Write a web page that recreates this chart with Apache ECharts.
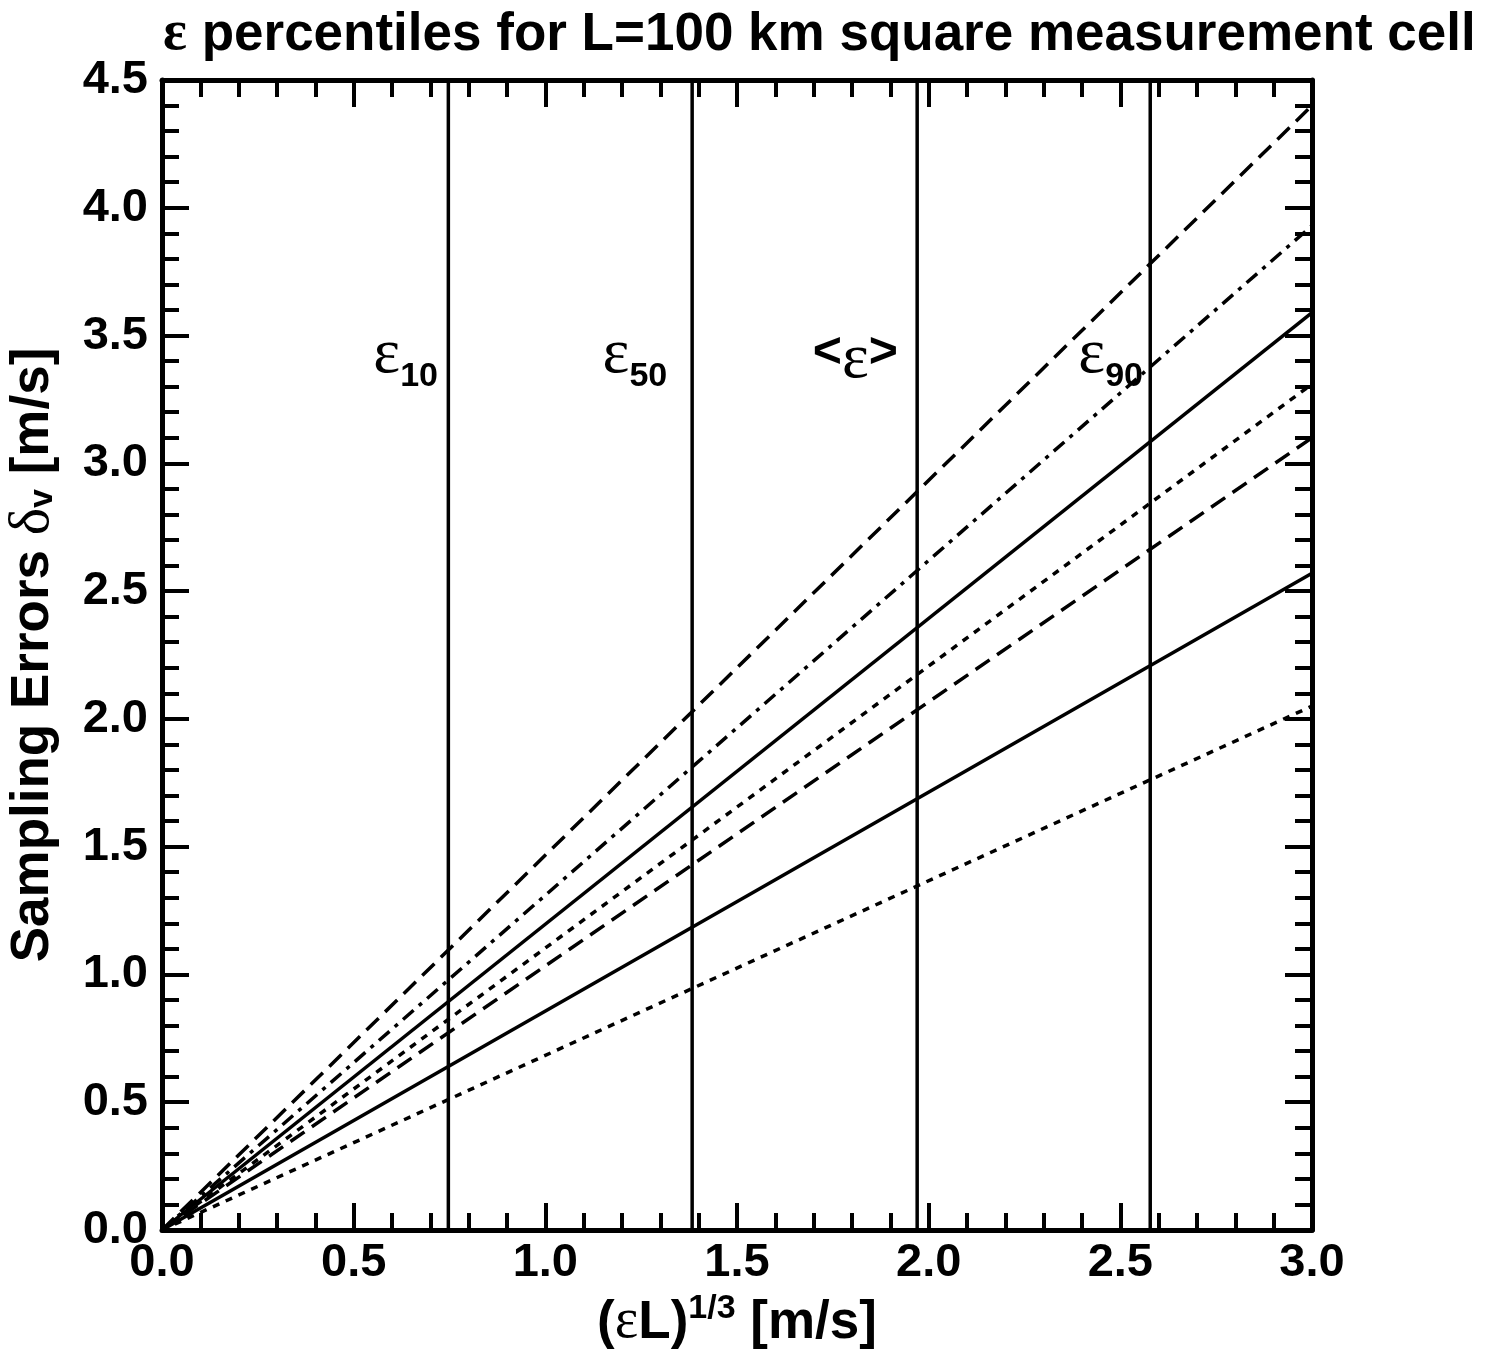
<!DOCTYPE html>
<html>
<head>
<meta charset="utf-8">
<script src="https://cdn.jsdelivr.net/npm/echarts@6/dist/echarts.min.js"></script>
<style>
  html, body { margin: 0; padding: 0; background: #fff; }
  #chart { width: 1491px; height: 1353px; }
</style>
</head>
<body>
<div id="chart"></div>
<script>
const chart = echarts.init(document.getElementById('chart'));

// x = (eps L)^(1/3) in m/s; each curve is a straight line from the origin
const xEnds = [0, 3.0];
const dashedTop = [0, 4.40];
const dashDot = [0, 3.93];
const solidUpper = [0, 3.59];
const dottedUpper = [0, 3.31];
const dashedLower = [0, 3.10];
const solidLower = [0, 2.57];
const dottedLower = [0, 2.05];

// percentile markers
const pctX = [0.747, 1.383, 1.970, 2.578];
const pctLabels = ['{e|ε}{s|10}', '{e|ε}{s|50}', '{b|<}{e|ε}{b|>}', '{e|ε}{s|90}'];
const pctLabelX = [0.720, 1.318, 1.920, 2.559];
const pctLabelY = 3.41;

const xTicks = ['0.0', '0.5', '1.0', '1.5', '2.0', '2.5', '3.0'];
const yTicks = ['0.0', '0.5', '1.0', '1.5', '2.0', '2.5', '3.0', '3.5', '4.0', '4.5'];

const SANS = 'Liberation Sans, Arial, Helvetica, sans-serif';
const SERIF = 'Liberation Serif, Times New Roman, serif';
const INK = '#000';

const pair = (ys) => xEnds.map((x, i) => [x, ys[i]]);

const curve = (ys, type) => ({
  type: 'line',
  data: pair(ys),
  symbol: 'none',
  silent: true,
  lineStyle: { color: INK, width: 3.5, type: type, cap: 'butt' }
});

const axisBase = {
  type: 'value',
  axisLine: { show: true, onZero: false, lineStyle: { color: INK, width: 5 } },
  axisTick: { show: true, inside: true, length: 27, lineStyle: { color: INK, width: 4 } },
  minorTick: { show: true, splitNumber: 5, length: 17, lineStyle: { color: INK, width: 4 } },
  splitLine: { show: false },
  minorSplitLine: { show: false }
};

const labelFont = { color: INK, fontFamily: SANS, fontWeight: 'bold', fontSize: 47 };

chart.setOption({
  animation: false,
  backgroundColor: '#fff',
  title: {
    text: '{e|ε}{b| percentiles for L=100 km square measurement cell}',
    left: 158,
    top: 2,
    textStyle: {
      rich: {
        e: { fontFamily: SERIF, fontSize: 56, color: INK },
        b: { fontFamily: SANS, fontWeight: 'bold', fontSize: 53, color: INK }
      }
    }
  },
  grid: { left: 162, top: 80, right: 179, bottom: 123, containLabel: false, outerBoundsMode: 'none' },
  xAxis: [
    Object.assign({}, axisBase, {
      position: 'bottom',
      min: 0, max: 3, interval: 0.5,
      axisLabel: {
        show: true, margin: 10,
        formatter: (v) => xTicks[Math.round(v / 0.5)],
        ...labelFont
      },
      name: '{p|(}{e|ε}{p|L)}{sup|1/3}{p| [m/s]}',
      nameLocation: 'middle',
      nameGap: 60,
      nameTextStyle: {
        rich: {
          p: { fontFamily: SANS, fontWeight: 'bold', fontSize: 53, color: INK, verticalAlign: 'bottom' },
          e: { fontFamily: SERIF, fontSize: 56, color: INK, verticalAlign: 'bottom' },
          sup: { fontFamily: SANS, fontWeight: 'bold', fontSize: 34, color: INK, verticalAlign: 'top', padding: [0, 0, 24, 0] }
        }
      }
    }),
    Object.assign({}, axisBase, {
      position: 'top',
      min: 0, max: 3, interval: 0.5,
      axisLabel: { show: false }
    })
  ],
  yAxis: [
    Object.assign({}, axisBase, {
      position: 'left',
      min: 0, max: 4.5, interval: 0.5,
      axisLabel: {
        show: true, margin: 14,
        formatter: (v) => yTicks[Math.round(v / 0.5)],
        ...labelFont
      },
      name: '{p|Sampling Errors }{e|δ}{s|v}{p| [m/s]}',
      nameLocation: 'middle',
      nameRotate: 90,
      nameGap: 100,
      nameTextStyle: {
        rich: {
          p: { fontFamily: SANS, fontWeight: 'bold', fontSize: 53, color: INK },
          e: { fontFamily: SERIF, fontSize: 58, color: INK },
          s: { fontFamily: SANS, fontWeight: 'bold', fontSize: 34, color: INK, padding: [20, 0, 0, 0] }
        }
      }
    }),
    Object.assign({}, axisBase, {
      position: 'right',
      min: 0, max: 4.5, interval: 0.5,
      axisLabel: { show: false }
    })
  ],
  series: [
    curve(dashedTop, [17, 9]),
    curve(dashDot, [14, 7, 4, 7]),
    curve(solidUpper, 'solid'),
    curve(dottedUpper, [7, 7]),
    curve(dashedLower, [17, 9]),
    curve(solidLower, 'solid'),
    curve(dottedLower, [7, 7]),
    ...pctX.map((x) => ({
      type: 'line',
      data: [[x, 0], [x, 4.5]],
      symbol: 'none',
      silent: true,
      lineStyle: { color: INK, width: 3.5 }
    })),
    {
      type: 'scatter',
      symbolSize: 0,
      silent: true,
      z: 10,
      data: pctLabelX.map((x, i) => ({
        value: [x, pctLabelY],
        label: { formatter: pctLabels[i] }
      })),
      label: {
        show: true,
        position: [0, 0],
        align: 'right',
        verticalAlign: 'middle',
        color: INK,
        opacity: 1,
        rich: {
          e: { fontFamily: SERIF, fontSize: 64, color: INK, lineHeight: 60, verticalAlign: 'top' },
          s: { fontFamily: SANS, fontWeight: 'bold', fontSize: 34, color: INK, padding: [36, 0, 0, 0] },
          b: { fontFamily: SANS, fontWeight: 'bold', fontSize: 50, color: INK, verticalAlign: 'top' }
        }
      }
    }
  ]
});

window.addEventListener('resize', () => chart.resize());
</script>
</body>
</html>
